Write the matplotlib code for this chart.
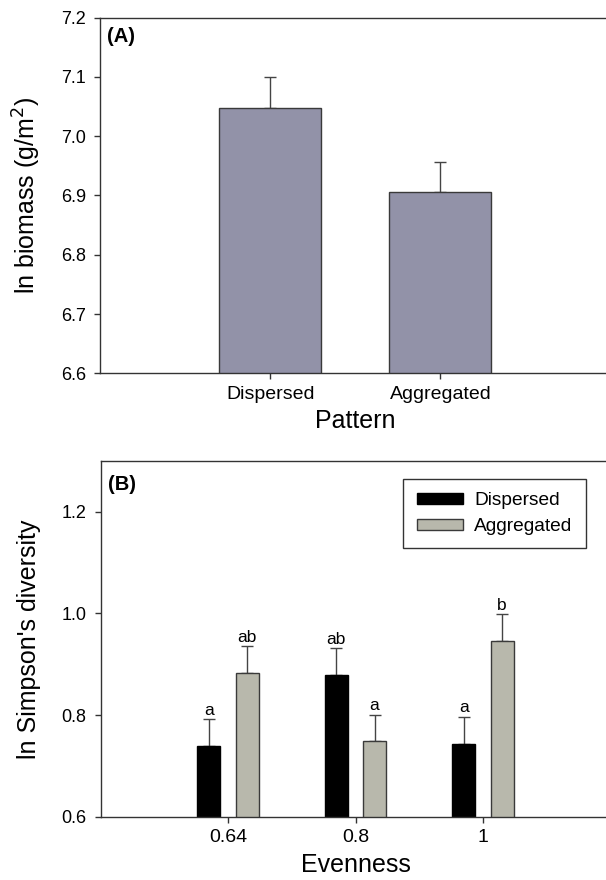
import matplotlib
matplotlib.use("Agg")
import matplotlib.pyplot as plt
import numpy as np

plt.rcParams['font.family'] = ['Liberation Sans', 'DejaVu Sans']

# ---- Panel A data ----
patterns = ["Dispersed", "Aggregated"]
biomass_mean = [7.048, 6.906]
biomass_se = [0.052, 0.051]

# ---- Panel B data ----
evenness = ["0.64", "0.8", "1"]
simpson_dispersed = [0.739, 0.879, 0.744]
simpson_dispersed_se = [0.053, 0.053, 0.053]
simpson_aggregated = [0.883, 0.748, 0.945]
simpson_aggregated_se = [0.053, 0.053, 0.054]
letters_dispersed = ["a", "ab", "a"]
letters_aggregated = ["ab", "a", "b"]

W, H = 606, 880
fig = plt.figure(figsize=(W / 100, H / 100), dpi=100)

def px_axes(left, top, right, bottom):
    return fig.add_axes([left / W, 1 - bottom / H, (right - left) / W, (bottom - top) / H])

spine_col = "#333333"
err_col = "#444444"

def style(ax):
    for s in ["left", "bottom", "top"]:
        ax.spines[s].set_color(spine_col)
        ax.spines[s].set_linewidth(1.0)
    ax.spines["right"].set_visible(False)
    ax.tick_params(axis="both", direction="out", length=4, width=1, color=spine_col)
    ax.tick_params(axis="y", labelsize=13, pad=6)
    ax.tick_params(axis="x", labelsize=14, pad=5)

# ---------------- Panel A ----------------
axA = px_axes(100, 17.7, 610.5, 373.3)
xA = np.arange(1, len(patterns) + 1)
axA.bar(xA, biomass_mean, width=0.6, color="#9292A8", edgecolor="#3a3a3a", linewidth=1.0, zorder=2)
axA.errorbar(xA, biomass_mean, yerr=[np.zeros(len(xA)), biomass_se], fmt="none",
             ecolor=err_col, elinewidth=1.0, capsize=4, capthick=1.0, zorder=1)
axA.set_xlim(0, 3)
axA.set_ylim(6.6, 7.2)
axA.set_yticks([6.6, 6.7, 6.8, 6.9, 7.0, 7.1, 7.2])
axA.set_xticks(xA)
axA.set_xticklabels(patterns)
style(axA)
axA.set_xlabel("Pattern", fontsize=18, va="center")
axA.xaxis.set_label_coords(0.5, -0.135)
axA.set_ylabel("ln biomass (g/m$^2$)", fontsize=18, va="center")
axA.yaxis.set_label_coords(-0.143, 0.5)
axA.text(0.014, 0.975, "(A)", transform=axA.transAxes, fontsize=14.5, fontweight="bold",
         ha="left", va="top")

# ---------------- Panel B ----------------
axB = px_axes(100.5, 461, 610.5, 816.7)
xB = np.arange(1, len(evenness) + 1)
off, bw = 0.15, 0.18
axB.bar(xB - off, simpson_dispersed, width=bw, color="black", edgecolor="black",
        linewidth=1.0, label="Dispersed", zorder=2)
axB.bar(xB + off, simpson_aggregated, width=bw, color="#B8B8AC", edgecolor="#3a3a3a",
        linewidth=1.0, label="Aggregated", zorder=2)
axB.errorbar(xB - off, simpson_dispersed, yerr=[np.zeros(len(xB)), simpson_dispersed_se],
             fmt="none", ecolor=err_col, elinewidth=1.0, capsize=4, capthick=1.0, zorder=1)
axB.errorbar(xB + off, simpson_aggregated, yerr=[np.zeros(len(xB)), simpson_aggregated_se],
             fmt="none", ecolor=err_col, elinewidth=1.0, capsize=4, capthick=1.0, zorder=1)
for x, v, e, t in zip(xB - off, simpson_dispersed, simpson_dispersed_se, letters_dispersed):
    axB.annotate(t, (x, v + e), xytext=(0, 1.0), textcoords="offset points",
                 ha="center", va="bottom", fontsize=12.5)
for x, v, e, t in zip(xB + off, simpson_aggregated, simpson_aggregated_se, letters_aggregated):
    axB.annotate(t, (x, v + e), xytext=(0, 1.0), textcoords="offset points",
                 ha="center", va="bottom", fontsize=12.5)
axB.set_xlim(0, 4)
axB.set_ylim(0.6, 1.3)
axB.set_yticks([0.6, 0.8, 1.0, 1.2])
axB.set_xticks(xB)
axB.set_xticklabels(evenness)
style(axB)
axB.set_xlabel("Evenness", fontsize=18, va="center")
axB.xaxis.set_label_coords(0.5, -0.137)
axB.set_ylabel("ln Simpson's diversity", fontsize=18, va="center")
axB.yaxis.set_label_coords(-0.14, 0.5)
axB.text(0.014, 0.962, "(B)", transform=axB.transAxes, fontsize=14.5, fontweight="bold",
         ha="left", va="top")

leg = axB.legend(loc="upper right", bbox_to_anchor=(586 / W, 1 - 479 / H),
                 bbox_transform=fig.transFigure, fontsize=13.8, frameon=True,
                 fancybox=False, edgecolor="black", handlelength=2.4, handleheight=0.5,
                 handletextpad=0.6, labelspacing=0.45, borderpad=0.7, borderaxespad=0)
leg.get_frame().set_linewidth(1.0)

fig.savefig("out.png", dpi=100)
